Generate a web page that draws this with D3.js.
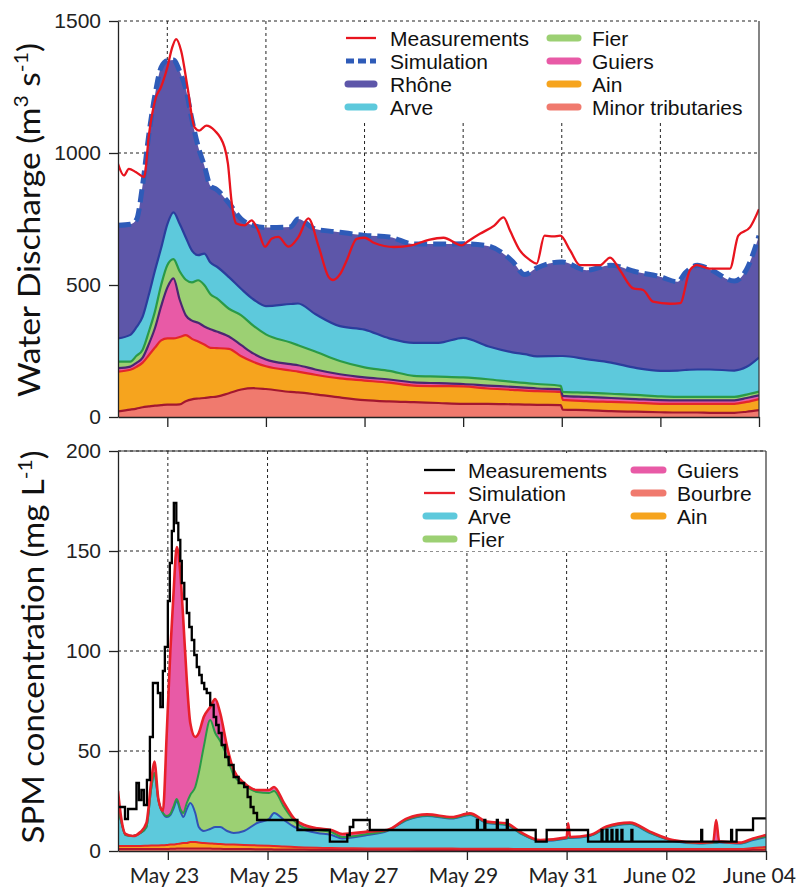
<!DOCTYPE html>
<html><head><meta charset="utf-8">
<script src="https://cdn.jsdelivr.net/npm/d3@7"></script>
<style>body{margin:0;background:#fff} svg{display:block}</style>
</head><body>
<svg id="c" width="796" height="889"></svg>
<script>
// ================= DATA (time in days after May 22, 00:00) =================
const xTickDays = [1, 3, 5, 7, 9, 11, 13];
const xTickLabels = ["May 23", "May 25", "May 27", "May 29", "May 31", "June 02", "June 04"];
const qTicks = [0, 500, 1000, 1500];
const spmTicks = [0, 50, 100, 150, 200];

// --- Water discharge (m3/s), simulated contributions (stacked) ---
const qDays = [0,0.25,0.375,0.5,0.625,0.75,0.875,1.0,1.125,1.25,
  1.375,1.5,1.625,1.75,1.875,2.0,2.25,2.5,2.75,3.0,
  3.5,3.65,4.0,4.5,5.0,5.5,6.0,6.5,7.0,7.5,
  8.0,8.25,8.5,8.98,9.02,9.5,10,10.5,11,11.35,
  11.5,11.75,12,12.5,12.75,13];
const qMinor = [21,28,32,37,40,43,45,47,47,48,
  60,67,70,72,75,77,90,104,109,106,
  95,93,86,74,64,59,56,53,50,50,
  48,47,46,45,28,26,22,20,18,17,
  17,17,16,16,20,26];
const qAin = [151,151,158,169,194,220,245,251,251,255,
  250,229,216,203,187,184,168,126,99,86,
  81,79,74,72,74,71,63,64,66,58,
  55,53,52,50,37,34,35,34,32,33,
  33,33,34,34,37,42];
const qGuiers = [13,12,15,19,42,74,130,192,227,142,
  75,69,71,68,70,63,47,42,32,26,
  24,24,20,16,12,12,12,11,9,11,
  11,11,10,10,15,16,15,14,14,13,
  13,13,13,13,15,14];
const qFier = [25,19,27,30,47,63,80,85,73,107,
  135,145,161,157,133,126,105,113,105,95,
  82,76,68,50,38,33,25,25,25,24,
  19,18,17,13,15,16,16,16,14,13,
  13,13,13,13,13,14];
const qArve = [88,101,108,125,140,155,140,155,177,180,
  160,120,95,119,120,120,120,100,100,107,
  146,158,142,132,143,123,125,128,150,125,
  112,109,105,113,136,127,118,102,97,100,
  102,104,104,100,105,129];
const qRhone = [428,419,408,500,607,665,685,620,577,578,
  563,496,412,334,290,292,280,265,280,298,
  292,320,322,356,357,384,374,374,356,380,
  345,302,335,356,356,337,369,364,356,336,
  367,395,380,339,370,462];
// measured discharge [day, m3/s]
const qMeasured = [[0,959],[0.12,915],[0.22,940],[0.36,928],[0.53,909],[0.63,1073],[0.77,1211],[0.87,1249],
  [1.0,1324],[1.1,1400],[1.18,1431],[1.28,1387],[1.41,1249],[1.55,1098],[1.65,1085],[1.79,1104],[1.96,1085],
  [2.16,1022],[2.23,959],[2.3,821],[2.4,733],[2.57,726],[2.71,745],[2.84,707],[2.98,645],[3.12,676],[3.25,682],
  [3.46,645],[3.66,682],[3.86,752],[4.07,645],[4.27,531],[4.36,519],[4.5,540],[4.64,594],[4.84,675],[5.0,679],
  [5.2,659],[5.6,644],[5.95,650],[6.3,671],[6.6,679],[6.97,650],[7.1,666],[7.34,694],[7.63,725],[7.82,756],
  [7.95,706],[8.15,631],[8.36,594],[8.49,581],[8.65,687],[8.83,684],[8.97,687],[9.17,631],[9.37,575],[9.78,575],
  [9.98,604],[10.18,556],[10.45,487],[10.65,481],[10.85,437],[11.2,429],[11.4,431],[11.6,556],[11.74,575],
  [12.0,562],[12.41,562],[12.58,687],[12.82,719],[13.0,787]];

// --- SPM concentration (mg/L), simulated contributions (stacked) ---
const spmDays = [0,0.05,0.15,0.3,0.45,0.57,0.67,0.73,0.81,0.9,
  0.98,1.05,1.11,1.18,1.25,1.31,1.38,1.45,1.55,1.62,
  1.72,1.85,1.95,2.05,2.19,2.32,2.53,2.79,3.03,3.13,
  3.33,3.54,3.74,4.0,4.28,4.5,5.0,5.4,5.8,6.2,
  6.7,7.06,7.4,7.8,8.06,8.47,9.0,9.03,9.07,9.47,
  9.8,10.27,10.67,11.13,11.67,11.94,12.0,12.06,12.48,12.74,
  13.0];
const spmBourbre = [1,1,1,1,1,1,1,1,1,1,
  1,1.1,1.1,1.2,1.2,1.3,1.3,1.3,1.3,1.2,
  1.2,1.2,1.1,1.1,1,1,1,0.9,0.9,0.8,
  0.8,0.7,0.7,0.6,0.6,0.6,0.6,0.6,0.6,0.5,
  0.5,0.5,0.5,0.5,0.5,0.5,0.5,0.5,0.5,0.5,
  0.5,0.5,0.5,0.5,0.5,0.5,0.5,0.5,0.5,0.6,
  0.7];
const spmAin = [1.5,1.5,1.5,1.5,1.5,1.6,1.7,1.8,1.8,1.9,
  2,2.1,2.2,2.3,2.5,2.7,2.7,3.2,3.2,3,
  2.8,2.6,2.5,2.4,2.3,2.2,2,1.9,1.7,1.7,
  1.4,1.3,1.1,1.0,0.9,0.8,0.7,0.7,0.6,0.7,
  0.7,0.6,0.6,0.6,0.5,0.5,0.5,0.5,0.5,0.5,
  0.5,0.5,0.5,0.5,0.5,0.5,0.5,0.5,0.5,0.9,
  1.3];
const spmArve = [17.5,13.5,5.5,5,6.5,9.4,29.3,36.2,22.7,16.1,
  14,14.8,17.7,21.5,16.3,13,17,19.5,14.5,7.8,
  6,7.2,8.4,8.5,6.7,5.8,7,11.2,13.4,16.5,
  13.3,10,8.7,7.4,6.5,4.9,6.7,8.7,14.3,16.3,
  15.1,16.9,12.9,11.9,8,4,5.3,5.5,5.5,6.5,
  10.5,12.5,8,4,2.7,3,3,3.3,2.7,4,
  5];
const spmFier = [0,0,0,0,0,0,0,0,0,0,
  0.5,0.5,1,1,1,2,3,4,13,27,
  42,54.5,47,43,37,29,23,15.5,13,11,
  6.5,3,1,1.5,1.5,0.7,0.5,0.2,0.2,0.2,
  0.2,0.2,0.2,0.2,0.2,0.2,0.2,0.2,0.2,0.2,
  0.2,0.2,0.2,0.2,0.2,0.2,0.2,0.2,0.2,0.3,
  0.3];
const spmGuiers = [10,3,0.5,0,0.5,2,3.5,5.7,0.5,1,
  42.5,81.5,105,126,118,96.5,61.5,36,25,20,
  15,6.5,17,14,5,2.5,1,1,1.5,2,
  2,1,1.5,0.8,1,1.5,1.2,0.3,0.6,0.6,
  0.5,0.6,0.5,0.6,0.5,0.3,0.3,7.1,0.3,0.3,
  0.5,0.5,0.5,0.3,0.3,0.3,11.3,0.3,0.3,0.5,
  0.7];
// measured SPM [day, mg/L] (stepped record)
const spmMeasured = [[0,22],[0.14,16],[0.2,21],[0.37,34],[0.42,25.5],[0.47,30.5],[0.52,23],[0.58,35.5],
  [0.64,57],[0.7,84],[0.77,84],[0.8,79],[0.85,72],[0.9,90],[0.94,102],[1.0,125],[1.04,144],[1.08,160],
  [1.12,174],[1.17,164],[1.21,155.5],[1.25,145],[1.28,134],[1.33,126],[1.38,119],[1.43,112],[1.48,105.5],
  [1.53,98],[1.58,92],[1.63,88],[1.68,84],[1.73,81],[1.78,79],[1.85,73],[1.92,67],[1.97,63],[2.02,59],
  [2.08,53],[2.15,47],[2.22,43],[2.32,37],[2.42,34],[2.53,32],[2.6,27],[2.66,22],[2.72,19],[2.79,15.5],
  [3.47,15.5],[3.6,10.5],[4.21,10.5],[4.25,4.7],[4.5,4.7],[4.6,8],[4.65,12],[4.72,15.5],[5.05,10.5],
  [7.2,15.5],[7.22,10.5],[7.35,15.5],[7.37,10.5],[7.6,15.5],[7.62,10.5],[7.8,15.5],[7.82,10.5],
  [8.38,4.7],[8.6,10.5],[9.43,4.7],[9.7,10.5],[9.72,4.7],[9.8,10.5],[9.82,4.7],[9.9,10.5],[9.92,4.7],
  [10.0,10.5],[10.02,4.7],[10.1,10.5],[10.12,4.7],[10.3,10.5],[10.32,4.7],[11.7,10.5],[11.72,4.7],
  [12.3,10.5],[12.32,4.7],[12.41,10.5],[12.74,16.3],[13.0,16.3]];

// ================= DRAWING =================
const svg = d3.select("#c");
const SANS = "'Liberation Sans', Arial, sans-serif";
const LABF = "Lato, 'Open Sans', sans-serif";

const xq = d3.scaleLinear().domain([0, 13]).range([118, 759]);
const yq = d3.scaleLinear().domain([0, 1500]).range([417, 21]);
const xs = d3.scaleLinear().domain([0, 13]).range([118, 766]);
const ys = d3.scaleLinear().domain([0, 200]).range([851, 451]);

const defs = svg.append("defs");
defs.append("clipPath").attr("id", "clipQ").append("rect").attr("x", 118).attr("y", 10).attr("width", 641).attr("height", 407);
defs.append("clipPath").attr("id", "clipS").append("rect").attr("x", 118).attr("y", 451).attr("width", 648).attr("height", 400);

function grid(x, y, yTicks, xTicks) {
  const g = svg.append("g");
  const [x0, x1] = x.range(), [yb, yt] = y.range();
  yTicks.filter(v => v > 0).forEach(v => {
    g.append("line").attr("x1", x0).attr("x2", x1).attr("y1", y(v)).attr("y2", y(v))
      .attr("stroke", "#222").attr("stroke-width", 1).attr("stroke-dasharray", "3,3");
  });
  xTicks.filter(v => v < 13).forEach(v => {
    g.append("line").attr("x1", x(v)).attr("x2", x(v)).attr("y1", yt).attr("y2", yb)
      .attr("stroke", "#222").attr("stroke-width", 1).attr("stroke-dasharray", "3,3");
  });
}

// -------- Top chart: discharge --------
grid(xq, yq, qTicks, xTickDays);

const qKeys = ["minor", "ain", "guiers", "fier", "arve", "rhone"];
const qSrc = {minor: qMinor, ain: qAin, guiers: qGuiers, fier: qFier, arve: qArve, rhone: qRhone};
const qRows = qDays.map((t, i) => { const r = {t}; qKeys.forEach(k => r[k] = qSrc[k][i]); return r; });
const qStack = d3.stack().keys(qKeys)(qRows);
const qFill = {minor: "#F07A6E", ain: "#F6A41E", guiers: "#E85AA6", fier: "#9CD073", arve: "#5DC9DC", rhone: "#5D56A9"};
const qEdge = {minor: "#A3172F", ain: "#E4262A", guiers: "#4B2672", fier: "#2A9A47", arve: "#2B3D9C"};

const gQ = svg.append("g").attr("clip-path", "url(#clipQ)");
const areaQ = d3.area().x(d => xq(d.data.t)).y0(d => yq(d[0])).y1(d => yq(d[1])).curve(d3.curveMonotoneX);
const topQ = d3.line().x(d => xq(d.data.t)).y(d => yq(d[1])).curve(d3.curveMonotoneX);
gQ.selectAll("path.a").data(qStack).join("path").attr("class", "a")
  .attr("d", areaQ).attr("fill", d => qFill[d.key]);
qStack.filter(s => s.key !== "rhone").forEach(s => {
  gQ.append("path").attr("d", topQ(s)).attr("fill", "none").attr("stroke", qEdge[s.key]).attr("stroke-width", 2.2);
});
// Simulation (total)
gQ.append("path").attr("d", topQ(qStack[qStack.length - 1])).attr("fill", "none")
  .attr("stroke", "#2E5BB8").attr("stroke-width", 5).attr("stroke-dasharray", "13,6");
// Measurements
gQ.append("path").attr("d", d3.line().x(d => xq(d[0])).y(d => yq(d[1])).curve(d3.curveMonotoneX)(qMeasured))
  .attr("fill", "none").attr("stroke", "#E8141E").attr("stroke-width", 2.3);

// axes top
svg.append("line").attr("x1", 759).attr("x2", 759).attr("y1", 21).attr("y2", 417).attr("stroke", "#333").attr("stroke-width", 1.2);
const axQL = svg.append("g").attr("transform", "translate(118,0)")
  .call(d3.axisLeft(yq).tickValues(qTicks).tickSize(9).tickSizeOuter(0).tickPadding(8).tickFormat(d3.format("d")));
const axQB = svg.append("g").attr("transform", "translate(0,417)")
  .call(d3.axisBottom(xq).tickValues(xTickDays).tickSize(10).tickSizeOuter(0).tickFormat(""));

// -------- Bottom chart: SPM --------
grid(xs, ys, spmTicks, xTickDays);
const sKeys = ["bourbre", "ain", "arve", "fier", "guiers"];
const sSrc = {bourbre: spmBourbre, ain: spmAin, arve: spmArve, fier: spmFier, guiers: spmGuiers};
const sRows = spmDays.map((t, i) => { const r = {t}; sKeys.forEach(k => r[k] = sSrc[k][i]); return r; });
const sStack = d3.stack().keys(sKeys)(sRows);
const sFill = {bourbre: "#F07A6E", ain: "#F6A41E", arve: "#5DC9DC", fier: "#9CD073", guiers: "#E85AA6"};
const sEdge = {bourbre: "#B5172C", ain: "#E4262A", arve: "#3152B6", fier: "#2A9A47", guiers: "#E8202A"};

const gS = svg.append("g").attr("clip-path", "url(#clipS)");
const areaS = d3.area().x(d => xs(d.data.t)).y0(d => ys(d[0])).y1(d => ys(d[1])).curve(d3.curveMonotoneX);
const topS = d3.line().x(d => xs(d.data.t)).y(d => ys(d[1])).curve(d3.curveMonotoneX);
gS.selectAll("path.a").data(sStack).join("path").attr("class", "a")
  .attr("d", areaS).attr("fill", d => sFill[d.key]);
sStack.forEach(s => {
  gS.append("path").attr("d", topS(s)).attr("fill", "none").attr("stroke", sEdge[s.key])
    .attr("stroke-width", s.key === "guiers" ? 2.6 : 2);
});
gS.append("path").attr("d", d3.line().x(d => xs(d[0])).y(d => ys(d[1])).curve(d3.curveStepAfter)(spmMeasured))
  .attr("fill", "none").attr("stroke", "#000").attr("stroke-width", 2.3);

svg.append("line").attr("x1", 118).attr("x2", 766).attr("y1", 451).attr("y2", 451).attr("stroke", "#333").attr("stroke-width", 1.2);
svg.append("line").attr("x1", 766).attr("x2", 766).attr("y1", 451).attr("y2", 851).attr("stroke", "#333").attr("stroke-width", 1.2);
const axSL = svg.append("g").attr("transform", "translate(118,0)")
  .call(d3.axisLeft(ys).tickValues(spmTicks).tickSize(9).tickSizeOuter(0).tickPadding(8).tickFormat(d3.format("d")));
const axSB = svg.append("g").attr("transform", "translate(0,851)")
  .call(d3.axisBottom(xs).tickValues(xTickDays).tickSize(9).tickSizeOuter(0).tickPadding(8)
    .tickFormat((d, i) => xTickLabels[i]));

[axQL, axQB, axSL, axSB].forEach(a => {
  a.selectAll("path.domain").attr("stroke", "#222").attr("stroke-width", 1.3);
  a.selectAll(".tick line").attr("stroke", "#222").attr("stroke-width", 1.3);
});
[axQL, axSL].forEach(a => a.selectAll("text").style("font-family", SANS).style("font-size", "21px").attr("fill", "#222"));
axSB.selectAll("text").style("font-family", LABF).style("font-size", "21px").attr("fill", "#222")
  .attr("dx", (d, i) => i >= 5 ? -7 : -4);

// axis titles
function yTitle(x, y, parts, len) {
  const t = svg.append("text").attr("transform", `translate(${x},${y}) rotate(-90)`)
    .attr("text-anchor", "middle").style("font-family", LABF).style("font-size", "30px").attr("fill", "#111");
  parts.forEach(p => {
    const s = t.append("tspan").text(p[0]);
    if (p[1]) s.attr("dy", p[1]);
    if (p[2]) s.style("font-size", p[2]);
  });
  t.attr("textLength", len).attr("lengthAdjust", "spacingAndGlyphs");
}
yTitle(40, 220, [["Water Discharge (m"], ["3", -12, "19px"], [" s", 12], ["-1", -12, "19px"], [")", 12]], 354);
yTitle(44, 647, [["SPM concentration (mg L"], ["-1", -12, "19px"], [")", 12]], 393);

// legends
function legend(bg, items) {
  const g = svg.append("g");
  g.append("rect").attr("x", bg[0]).attr("y", bg[1]).attr("width", bg[2]).attr("height", bg[3]).attr("fill", "#fff");
  items.forEach(it => {
    g.append("line").attr("x1", it.lx).attr("x2", it.lx + it.lw).attr("y1", it.y).attr("y2", it.y)
      .attr("stroke", it.c).attr("stroke-width", it.w).attr("stroke-linecap", it.w > 4 && !it.dash ? "round" : "butt")
      .attr("stroke-dasharray", it.dash || null);
    g.append("text").attr("x", it.tx).attr("y", it.y + 7.5).text(it.label)
      .style("font-family", SANS).style("font-size", "21px").attr("fill", "#111");
  });
}
legend([336, 22, 421, 100], [
  {label: "Measurements", c: "#E8141E", w: 2.3, lx: 346, lw: 30, tx: 390, y: 38},
  {label: "Simulation", c: "#2E5BB8", w: 5, dash: "8,4", lx: 346, lw: 30, tx: 390, y: 61},
  {label: "Rhône", c: qFill.rhone, w: 7, lx: 348, lw: 26, tx: 390, y: 84},
  {label: "Arve", c: qFill.arve, w: 7, lx: 348, lw: 26, tx: 390, y: 107},
  {label: "Fier", c: qFill.fier, w: 7, lx: 550, lw: 28, tx: 592, y: 38},
  {label: "Guiers", c: qFill.guiers, w: 7, lx: 550, lw: 28, tx: 592, y: 61},
  {label: "Ain", c: qFill.ain, w: 7, lx: 550, lw: 28, tx: 592, y: 84},
  {label: "Minor tributaries", c: qFill.minor, w: 7, lx: 550, lw: 28, tx: 592, y: 107}
]);
legend([416, 453, 348, 98], [
  {label: "Measurements", c: "#000", w: 2.3, lx: 424, lw: 31, tx: 468, y: 470},
  {label: "Simulation", c: "#E8202A", w: 2.3, lx: 424, lw: 31, tx: 468, y: 493},
  {label: "Arve", c: sFill.arve, w: 7, lx: 426, lw: 28, tx: 468, y: 516},
  {label: "Fier", c: sFill.fier, w: 7, lx: 426, lw: 28, tx: 468, y: 539},
  {label: "Guiers", c: sFill.guiers, w: 7, lx: 634, lw: 29, tx: 677, y: 470},
  {label: "Bourbre", c: sFill.bourbre, w: 7, lx: 634, lw: 29, tx: 677, y: 493},
  {label: "Ain", c: sFill.ain, w: 7, lx: 634, lw: 29, tx: 677, y: 516}
]);
</script>
</body></html>
